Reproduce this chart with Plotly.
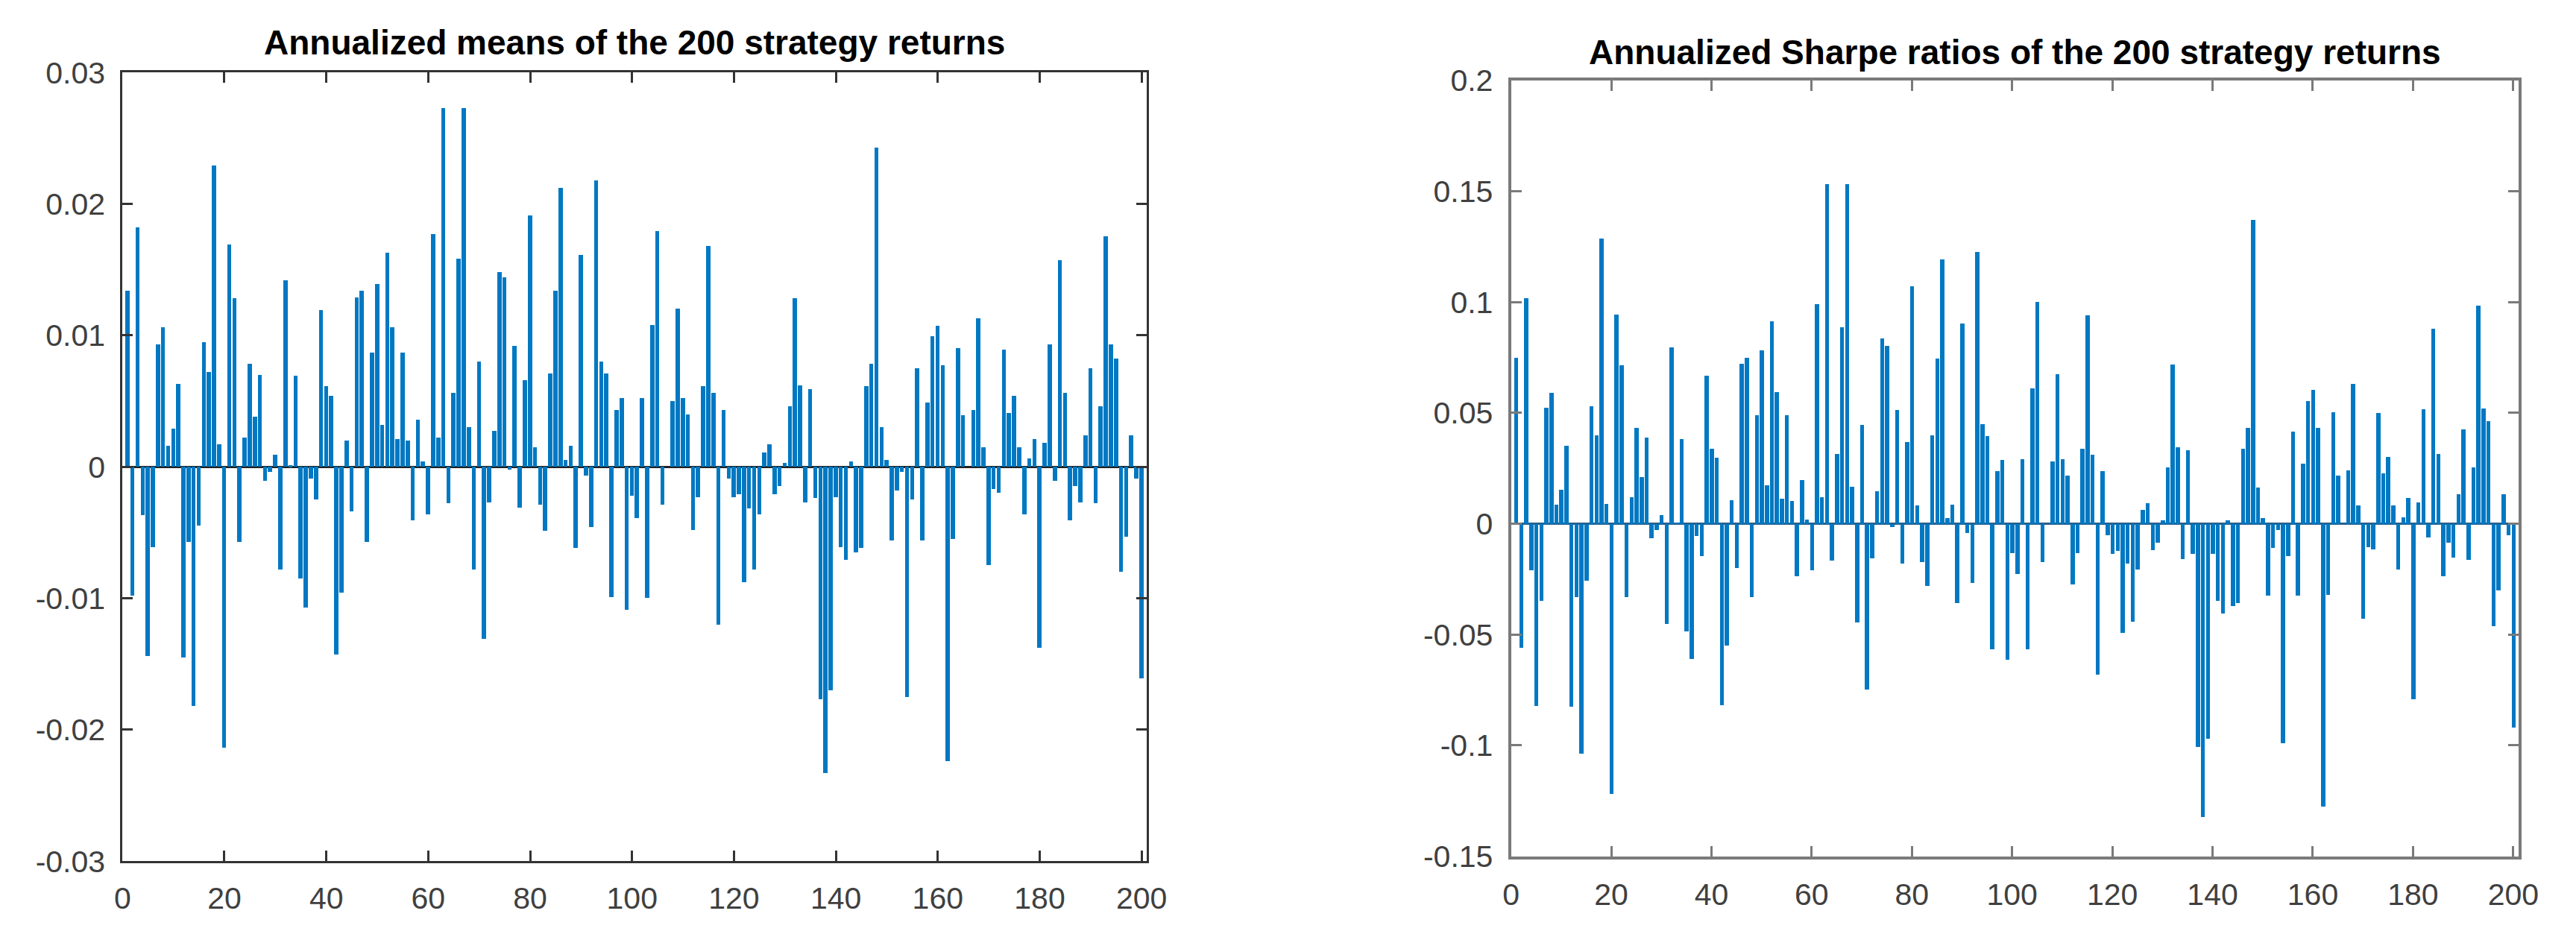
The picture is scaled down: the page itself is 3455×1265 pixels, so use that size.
import plotly.graph_objects as go

strategies = list(range(1, 201))

annual_means = [
    0.0134, -0.0098, 0.0182, -0.0037, -0.0144, -0.0061, 0.0093, 0.0106, 0.0016, 0.0029,
    0.0063, -0.0145, -0.0057, -0.0182, -0.0045, 0.0095, 0.0072, 0.0229, 0.0017, -0.0214,
    0.0169, 0.0128, -0.0057, 0.0022, 0.0078, 0.0038, 0.0070, -0.0011, -0.0004, 0.0009,
    -0.0078, 0.0142, 0.0001, 0.0069, -0.0085, -0.0107, -0.0009, -0.0025, 0.0119, 0.0061,
    0.0054, -0.0143, -0.0096, 0.0020, -0.0034, 0.0129, 0.0134, -0.0057, 0.0087, 0.0139,
    0.0032, 0.0163, 0.0106, 0.0021, 0.0087, 0.0020, -0.0041, 0.0036, 0.0004, -0.0036,
    0.0177, 0.0022, 0.0273, -0.0028, 0.0056, 0.0158, 0.0273, 0.0030, -0.0078, 0.0080,
    -0.0131, -0.0027, 0.0027, 0.0148, 0.0144, -0.0002, 0.0092, -0.0031, 0.0066, 0.0191,
    0.0015, -0.0029, -0.0049, 0.0071, 0.0134, 0.0212, 0.0005, 0.0016, -0.0062, 0.0161,
    -0.0007, -0.0046, 0.0218, 0.0080, 0.0071, -0.0099, 0.0043, 0.0052, -0.0109, -0.0022,
    -0.0039, 0.0052, -0.0100, 0.0108, 0.0179, -0.0029, 0.0000, 0.0050, 0.0120, 0.0052,
    0.0040, -0.0048, -0.0023, 0.0061, 0.0168, 0.0056, -0.0120, 0.0043, -0.0009, -0.0023,
    -0.0021, -0.0088, -0.0032, -0.0078, -0.0036, 0.0011, 0.0017, -0.0021, -0.0015, 0.0003,
    0.0046, 0.0128, 0.0062, -0.0027, 0.0059, -0.0024, -0.0177, -0.0233, -0.0170, -0.0023,
    -0.0061, -0.0071, 0.0004, -0.0065, -0.0062, 0.0061, 0.0078, 0.0243, 0.0030, 0.0005,
    -0.0056, -0.0018, -0.0004, -0.0175, -0.0025, 0.0075, -0.0056, 0.0049, 0.0099, 0.0107,
    0.0077, -0.0224, -0.0055, 0.0090, 0.0039, 0.0000, 0.0043, 0.0113, 0.0015, -0.0075,
    -0.0017, -0.0020, 0.0089, 0.0041, 0.0054, 0.0015, -0.0036, 0.0006, 0.0021, -0.0138,
    0.0018, 0.0093, -0.0011, 0.0157, 0.0056, -0.0041, -0.0015, -0.0027, 0.0024, 0.0075,
    -0.0028, 0.0046, 0.0175, 0.0093, 0.0082, -0.0080, -0.0053, 0.0024, -0.0009, -0.0161,
]

sharpe_ratios = [
    0.0749, -0.0559, 0.1018, -0.0210, -0.0820, -0.0347, 0.0523, 0.0591, 0.0087, 0.0155,
    0.0352, -0.0824, -0.0331, -0.1037, -0.0258, 0.0530, 0.0400, 0.1288, 0.0089, -0.1217,
    0.0945, 0.0717, -0.0331, 0.0119, 0.0434, 0.0212, 0.0390, -0.0066, -0.0027, 0.0041,
    -0.0450, 0.0797, 0.0005, 0.0381, -0.0486, -0.0610, -0.0055, -0.0146, 0.0669, 0.0338,
    0.0299, -0.0817, -0.0548, 0.0107, -0.0201, 0.0721, 0.0749, -0.0329, 0.0489, 0.0783,
    0.0174, 0.0913, 0.0594, 0.0114, 0.0491, 0.0103, -0.0235, 0.0199, 0.0018, -0.0208,
    0.0991, 0.0119, 0.1534, -0.0167, 0.0315, 0.0886, 0.1534, 0.0167, -0.0445, 0.0447,
    -0.0747, -0.0155, 0.0146, 0.0836, 0.0804, -0.0014, 0.0514, -0.0178, 0.0368, 0.1073,
    0.0082, -0.0171, -0.0279, 0.0400, 0.0747, 0.1192, 0.0025, 0.0087, -0.0356, 0.0902,
    -0.0041, -0.0265, 0.1226, 0.0450, 0.0397, -0.0566, 0.0237, 0.0288, -0.0614, -0.0132,
    -0.0226, 0.0290, -0.0566, 0.0610, 0.1000, -0.0171, 0.0000, 0.0281, 0.0674, 0.0290,
    0.0219, -0.0274, -0.0132, 0.0338, 0.0941, 0.0313, -0.0680, 0.0237, -0.0050, -0.0137,
    -0.0123, -0.0493, -0.0178, -0.0441, -0.0205, 0.0062, 0.0094, -0.0119, -0.0084, 0.0016,
    0.0256, 0.0719, 0.0347, -0.0160, 0.0333, -0.0137, -0.1005, -0.1324, -0.0970, -0.0137,
    -0.0347, -0.0405, 0.0016, -0.0372, -0.0358, 0.0338, 0.0434, 0.1370, 0.0164, 0.0027,
    -0.0324, -0.0110, -0.0027, -0.0991, -0.0146, 0.0416, -0.0324, 0.0272, 0.0553, 0.0603,
    0.0432, -0.1274, -0.0320, 0.0502, 0.0219, 0.0000, 0.0242, 0.0630, 0.0082, -0.0427,
    -0.0105, -0.0116, 0.0500, 0.0228, 0.0301, 0.0082, -0.0205, 0.0030, 0.0116, -0.0791,
    0.0098, 0.0518, -0.0062, 0.0881, 0.0315, -0.0237, -0.0084, -0.0153, 0.0132, 0.0425,
    -0.0164, 0.0256, 0.0986, 0.0521, 0.0463, -0.0461, -0.0301, 0.0132, -0.0053, -0.0920,
]

x_tick_values = [0, 20, 40, 60, 80, 100, 120, 140, 160, 180, 200]
x_tick_labels = ["0", "20", "40", "60", "80", "100", "120", "140", "160", "180", "200"]
means_tick_values = [-0.03, -0.02, -0.01, 0, 0.01, 0.02, 0.03]
means_tick_labels = ["-0.03", "-0.02", "-0.01", "0", "0.01", "0.02", "0.03"]
sharpe_tick_values = [-0.15, -0.1, -0.05, 0, 0.05, 0.1, 0.15, 0.2]
sharpe_tick_labels = ["-0.15", "-0.1", "-0.05", "0", "0.05", "0.1", "0.15", "0.2"]

title_means = "Annualized means of the 200 strategy returns"
title_sharpe = "Annualized Sharpe ratios of the 200 strategy returns"

W, H = 3455, 1265
BAR = "#0078C2"
AX_L = "#333333"
AX_R = "#7a7a7a"
FONT = "Liberation Sans, Arial, Helvetica, sans-serif"

fig = go.Figure()
fig.add_trace(go.Bar(x=strategies, y=annual_means, marker=dict(color=BAR, line=dict(width=0)),
                     width=0.82, xaxis="x", yaxis="y", showlegend=False))
fig.add_trace(go.Bar(x=strategies, y=sharpe_ratios, marker=dict(color=BAR, line=dict(width=0)),
                     width=0.82, xaxis="x2", yaxis="y2", showlegend=False))


def axis_style(color, lw):
    return dict(showline=True, linecolor=color, linewidth=lw, mirror="ticks", ticks="inside",
                ticklen=14, tickwidth=3, tickcolor=color, showgrid=False,
                ticklabelstandoff=12,
                tickfont=dict(family=FONT, size=41, color="#404040"))


# panel geometry (pixels)
lx0, lx1, ly0, ly1 = 155, 1544, 77, 1175
rx0, rx1, ry0, ry1 = 2038, 3404, 88, 1168

fig.update_layout(
    width=W, height=H, margin=dict(l=0, r=0, t=0, b=0),
    paper_bgcolor="white", plot_bgcolor="white", bargap=0,
    xaxis=dict(domain=[lx0 / W, lx1 / W], range=[0, 201], tickvals=x_tick_values,
               ticktext=x_tick_labels, zeroline=False, anchor="y", **axis_style(AX_L, 3)),
    yaxis=dict(domain=[1 - ly1 / H, 1 - ly0 / H], range=[-0.03, 0.03],
               tickvals=means_tick_values, ticktext=means_tick_labels, anchor="x",
               zeroline=True, zerolinecolor="#222222", zerolinewidth=3, **axis_style(AX_L, 3)),
    xaxis2=dict(domain=[rx0 / W, rx1 / W], range=[0, 201], tickvals=x_tick_values,
                ticktext=x_tick_labels, zeroline=False, anchor="y2", **axis_style(AX_R, 4)),
    yaxis2=dict(domain=[1 - ry1 / H, 1 - ry0 / H], range=[-0.15, 0.2],
                tickvals=sharpe_tick_values, ticktext=sharpe_tick_labels, anchor="x2",
                zeroline=True, zerolinecolor="#2a5f8a", zerolinewidth=3, **axis_style(AX_R, 4)),
    annotations=[
        dict(text="<b>" + title_means + "</b>", xref="paper", yref="paper",
             x=(lx0 + lx1) / 2 / W, y=1 - 64 / H, xanchor="center", yanchor="bottom",
             showarrow=False, font=dict(family=FONT, size=46, color="black")),
        dict(text="<b>" + title_sharpe + "</b>", xref="paper", yref="paper",
             x=(rx0 + rx1) / 2 / W, y=1 - 78 / H, xanchor="center", yanchor="bottom",
             showarrow=False, font=dict(family=FONT, size=46, color="black")),
    ],
)

fig.write_html("out.html", config={"displayModeBar": False},
               post_script="document.body.style.margin='0';")
